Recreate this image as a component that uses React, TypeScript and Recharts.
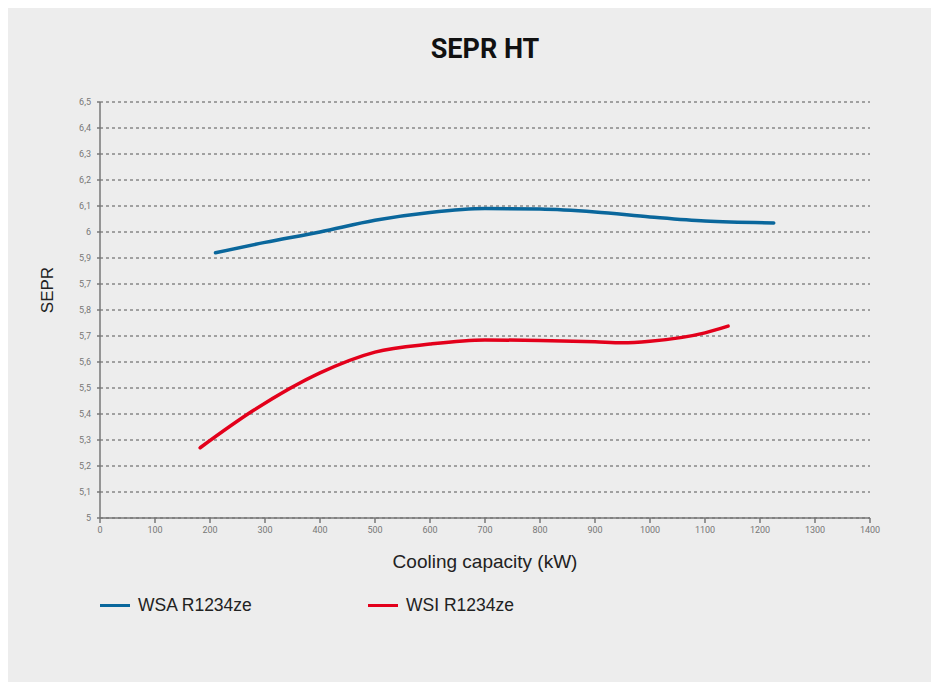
import React from 'react';
import { LineChart, Line, XAxis, YAxis, CartesianGrid } from 'recharts';

// Cooling capacity (kW) / SEPR values
const wsaCapacity = [210, 300, 400, 500, 600, 700, 800, 900, 1000, 1100, 1225];
const wsaSepr = [5.92, 5.96, 6.0, 6.045, 6.075, 6.09, 6.088, 6.077, 6.058, 6.042, 6.035];

const wsiCapacity = [182, 280, 400, 500, 600, 700, 800, 900, 950, 1000, 1100, 1142];
const wsiSepr = [5.17, 5.315, 5.458, 5.538, 5.569, 5.585, 5.583, 5.578, 5.574, 5.58, 5.612, 5.638];

const xTicks = [0, 100, 200, 300, 400, 500, 600, 700, 800, 900, 1000, 1100, 1200, 1300, 1400];
const yTicks = [4.9, 5.0, 5.1, 5.2, 5.3, 5.4, 5.5, 5.6, 5.7, 5.8, 5.9, 6.0, 6.1, 6.2, 6.3, 6.4, 6.5];
// labels as printed on the original axis (bottom to top)
const yTickLabels = ['5', '5,1', '5,2', '5,3', '5,4', '5,5', '5,6', '5,7', '5,8', '5,7', '5,9', '6', '6,1', '6,2', '6,3', '6,4', '6,5'];

const BLUE = '#0a679c';
const RED = '#e3001b';
const FONT = 'Roboto, "Liberation Sans", Arial, sans-serif';
const LABEL_FONT = '"Liberation Sans", Arial, sans-serif';

const wsaData = wsaCapacity.map((x, i) => ({ x, y: wsaSepr[i] }));
const wsiData = wsiCapacity.map((x, i) => ({ x, y: wsiSepr[i] }));

const series = [
  { name: 'WSA R1234ze', color: BLUE, data: wsaData },
  { name: 'WSI R1234ze', color: RED, data: wsiData },
];

const yLabelFor = (v: number) => {
  let best = 0;
  yTicks.forEach((t, i) => {
    if (Math.abs(t - v) < Math.abs(yTicks[best] - v)) best = i;
  });
  return yTickLabels[best];
};

export default function App() {
  return (
    <div style={{ position: 'relative', width: 923, height: 674, background: '#ededed', fontFamily: FONT }}>
      <div
        style={{
          position: 'absolute',
          left: 92,
          width: 770,
          top: 25,
          textAlign: 'center',
          fontSize: 27,
          fontWeight: 700,
          color: '#111',
        }}
      >
        SEPR HT
      </div>
      <LineChart width={923} height={580} margin={{ top: 94, right: 61, bottom: 0, left: 0 }}>
        <CartesianGrid vertical={false} strokeDasharray="3 3" stroke="#555" strokeWidth={1} />
        <XAxis
          dataKey="x"
          type="number"
          domain={[0, 1400]}
          ticks={xTicks}
          allowDuplicatedCategory={false}
          height={70}
          stroke="#777"
          strokeWidth={1.5}
          tickSize={5}
          tickMargin={4}
          tick={{ fontSize: 9, fill: '#777', fontFamily: FONT }}
          label={({ viewBox }: any) => (
            <text
              x={viewBox.x + viewBox.width / 2}
              y={viewBox.y + 50}
              textAnchor="middle"
              fontSize={19}
              fill="#222"
              fontFamily={LABEL_FONT}
            >
              Cooling capacity (kW)
            </text>
          )}
        />
        <YAxis
          type="number"
          domain={[4.9, 6.5]}
          ticks={yTicks}
          interval={0}
          width={92}
          stroke="#777"
          strokeWidth={1.5}
          tickSize={3}
          tickMargin={6}
          tickFormatter={yLabelFor}
          tick={{ fontSize: 9, fill: '#777', fontFamily: FONT }}
          label={({ viewBox }: any) => (
            <text
              x={45}
              y={viewBox.y + 188}
              transform={`rotate(-90, 45, ${viewBox.y + 188})`}
              textAnchor="middle"
              fontSize={17}
              fill="#222"
              fontFamily={LABEL_FONT}
            >
              SEPR
            </text>
          )}
        />
        {series.map((s) => (
          <Line
            key={s.name}
            data={s.data}
            dataKey="y"
            name={s.name}
            type="monotone"
            stroke={s.color}
            strokeWidth={3.5}
            strokeLinecap="round"
            dot={false}
            activeDot={false}
            isAnimationActive={false}
          />
        ))}
      </LineChart>
      <div style={{ position: 'absolute', left: 92, top: 587, display: 'flex', fontFamily: LABEL_FONT }}>
        {series.map((s) => (
          <div key={s.name} style={{ display: 'flex', alignItems: 'center', width: 268 }}>
            <span style={{ display: 'inline-block', width: 30, height: 3, background: s.color, marginRight: 8 }} />
            <span style={{ fontSize: 17.5, color: '#222' }}>{s.name}</span>
          </div>
        ))}
      </div>
    </div>
  );
}
